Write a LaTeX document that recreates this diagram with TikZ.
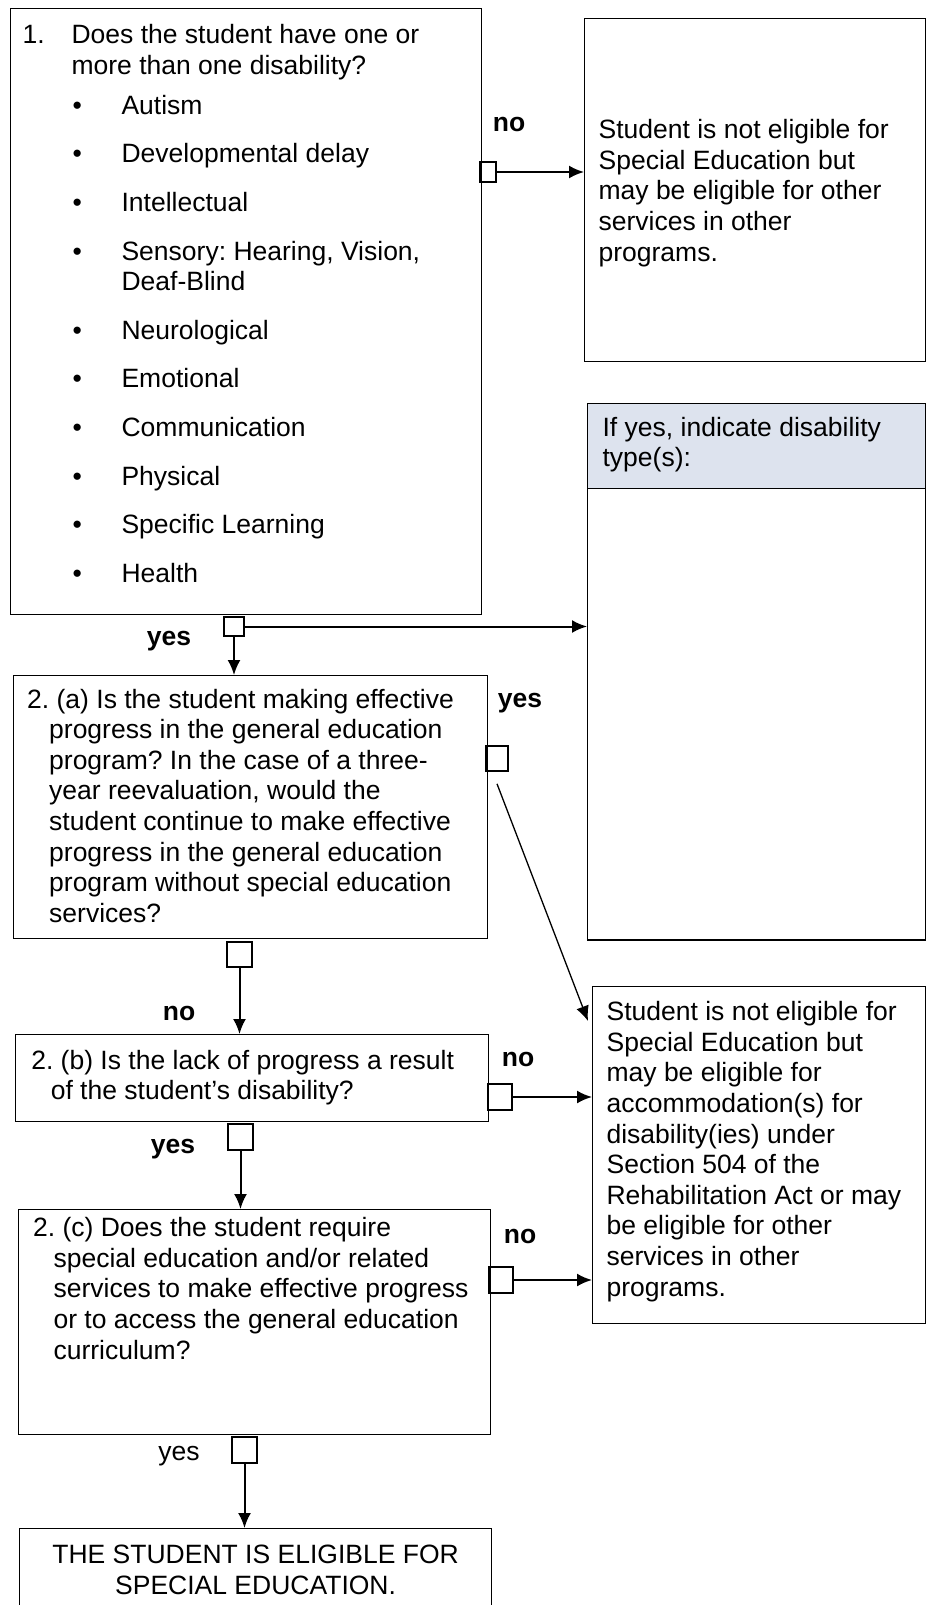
\documentclass[tikz,border=0pt]{standalone}
\usepackage{fontspec}
\setmainfont{Liberation Sans}
\usetikzlibrary{shapes.multipart,arrows.meta}
\definecolor{hdrblue}{RGB}{221,227,238}
\frenchspacing
% box text: width, height, left pad, top gap, text
\newcommand{\boxtext}[5]{\parbox[t][#2][t]{#1}{\leftskip=#3\vspace*{#4}\strut #5}}
\newcommand{\bitem}[1]{\par\hangindent=99pt\hangafter=1\makebox[99pt][l]{\hspace*{50pt}\textbullet}#1}

\begin{document}
\begin{tikzpicture}[x=1pt, y=-1pt, font=\fontsize{26.5}{30.6}\selectfont,
    block_q/.style ={rectangle, draw=black, line width=1.2pt, inner sep=0pt, anchor=north west},
    block_types/.style ={block_q, rectangle split, rectangle split parts=2,
      rectangle split part fill={hdrblue,white}},
    check/.style ={rectangle, draw=black, line width=1.6pt, inner sep=0pt},
    answer/.style ={inner sep=0pt, anchor=base},
    line/.style ={draw, line width=2pt, -{Latex[length=15pt,width=13pt]}}]
    \useasboundingbox (0,0) rectangle (926,1605);
    \clip (0,0) rectangle (926,1605);
    % question boxes
    \node [block_q] (disab) at (10,8) {\boxtext{471pt}{606pt}{12pt}{13.6pt}{%
      \setlength{\parskip}{18pt}\hangindent=49pt\hangafter=1\makebox[49pt][l]{1.}Does the student have one or\\ more than one disability?\par
      \vspace{-8.5pt}\bitem{Autism}\bitem{Developmental delay}\bitem{Intellectual}
      \bitem{Sensory: Hearing, Vision,\\ Deaf-Blind}\bitem{Neurological}\bitem{Emotional}
      \bitem{Communication}\bitem{Physical}\bitem{Specific Learning}\bitem{Health}}};
    \node [block_q] (q2a) at (13,675) {\boxtext{474pt}{263pt}{13.6pt}{11.1pt}{%
      \hangindent=22pt\hangafter=1 2. (a) Is the student making effective\\ progress in the general education\\ program? In the case of a three-\\ year reevaluation, would the\\ student continue to make effective\\ progress in the general education\\ program without special education\\ services?}};
    \node [block_q] (q2b) at (15,1034) {\boxtext{473pt}{87pt}{15.7pt}{13.1pt}{%
      \hangindent=19.5pt\hangafter=1 2. (b) Is the lack of progress a result\\ of the student’s disability?}};
    \node [block_q] (q2c) at (18,1209) {\boxtext{472pt}{225pt}{14.5pt}{5.6pt}{%
      \hangindent=20.5pt\hangafter=1 2. (c) Does the student require\\ special education and/or related\\ services to make effective progress\\ or to access the general education\\ curriculum?}};
    \node [block_q] (elig) at (19,1528) {\boxtext{472pt}{100pt}{0pt}{13.6pt}{%
      \centering THE STUDENT IS ELIGIBLE FOR\\ SPECIAL EDUCATION.}};
    % outcome boxes
    \node [block_q] (notelig) at (584,18) {\boxtext{341pt}{343pt}{14pt}{98.6pt}{%
      Student is not eligible for\\ Special Education but\\ may be eligible for other\\ services in other\\ programs.}};
    \node [block_types] (types) at (587,403) {\boxtext{338pt}{84pt}{15pt}{10.6pt}{%
      If yes, indicate disability\\ type(s):}\nodepart{two}\parbox[t][450pt]{338pt}{}};
    \node [block_q] (not504) at (592,986) {\boxtext{333pt}{337pt}{14pt}{12.6pt}{%
      Student is not eligible for\\ Special Education but\\ may be eligible for\\ accommodation(s) for\\ disability(ies) under\\ Section 504 of the\\ Rehabilitation Act or may\\ be eligible for other\\ services in other\\ programs.}};
    % check boxes
    \node [check, minimum width=16pt, minimum height=20pt] (c1) at (488,172) {};
    \node [check, minimum width=20pt, minimum height=19pt] (c2) at (234,626.5) {};
    \node [check, minimum width=22pt, minimum height=25pt] (c3) at (497,758.5) {};
    \node [check, minimum width=25pt, minimum height=25pt] (c4) at (239.5,954.5) {};
    \node [check, minimum width=24pt, minimum height=26pt] (c5) at (500,1097) {};
    \node [check, minimum width=25pt, minimum height=26pt] (c6) at (240.5,1137) {};
    \node [check, minimum width=24pt, minimum height=26pt] (c7) at (501,1280) {};
    \node [check, minimum width=25pt, minimum height=26pt] (c8) at (244.5,1450) {};
    % answers
    \node [answer, font=\fontsize{26.5}{30.6}\selectfont\bfseries] (no1) at (509,132) {no};
    \node [answer, font=\fontsize{26.5}{30.6}\selectfont\bfseries] (yes1) at (169,645) {yes};
    \node [answer, font=\fontsize{26.5}{30.6}\selectfont\bfseries] (yes2a) at (520,707) {yes};
    \node [answer, font=\fontsize{26.5}{30.6}\selectfont\bfseries] (no2a) at (179,1020) {no};
    \node [answer, font=\fontsize{26.5}{30.6}\selectfont\bfseries] (no2b) at (518,1066) {no};
    \node [answer, font=\fontsize{26.5}{30.6}\selectfont\bfseries] (yes2b) at (173,1153) {yes};
    \node [answer, font=\fontsize{26.5}{30.6}\selectfont\bfseries] (no2c) at (520,1243) {no};
    \node [answer] (yes2c) at (179,1460) {yes};
    % connecting nodes with paths
    \begin{scope}[every path/.style=line]
      \path (c1) -- (c1 -| notelig.west);
      \path (c2) -- (c2 -| types.west);
      \path (c2) -- (c2 |- q2a.north);
      \path[line width=1.3pt] ([yshift=-12pt]c3.south) -- ([xshift=-4pt,yshift=-35pt]not504.north west);
      \path (c4) -- (c4 |- q2b.north);
      \path (c5) -- (c5 -| not504.west);
      \path (c6) -- (c6 |- q2c.north);
      \path (c7) -- (c7 -| not504.west);
      \path (c8) -- (c8 |- elig.north);
    \end{scope}
\end{tikzpicture}
\end{document}
